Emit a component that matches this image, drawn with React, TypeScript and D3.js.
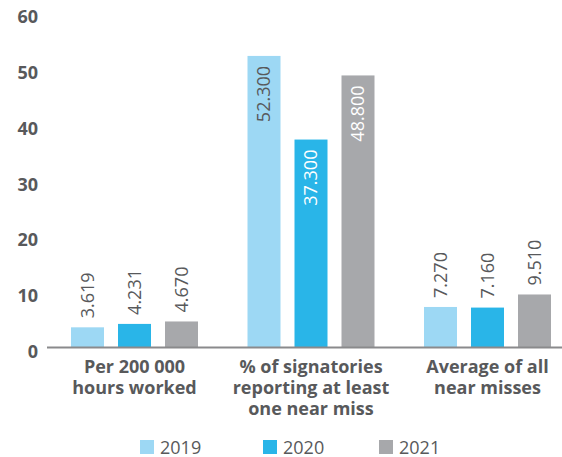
import React from "react";
import * as d3 from "d3";

const categories = [
  ["Per 200 000", "hours worked"],
  ["% of signatories", "reporting at least", "one near miss"],
  ["Average of all", "near misses"],
];
const years = ["2019", "2020", "2021"];
const values2019 = [3.619, 52.3, 7.27];
const values2020 = [4.231, 37.3, 7.16];
const values2021 = [4.67, 48.8, 9.51];
const yTicks = [0, 10, 20, 30, 40, 50, 60];

const colors = ["#9dd8f4", "#29b5e8", "#a7a8ab"];
const insideText = ["#58595b", "#ffffff", "#ffffff"];
const textColor = "#58595b";
const font = "'Open Sans', sans-serif";

const W = 562;
const H = 457;

const App = () => {
  const series = [values2019, values2020, values2021];
  const catKeys = categories.map((c) => c.join(" "));

  const y = d3.scaleLinear().domain([0, 60]).range([347.5, 13]);
  const x0 = d3.scaleBand().domain(catKeys).range([46.25, 575.75]);
  const groupW = 127;
  const x1 = d3
    .scaleBand()
    .domain(years)
    .range([(x0.bandwidth() - groupW) / 2, (x0.bandwidth() + groupW) / 2])
    .paddingInner(14 / 47);

  const legendX = d3.scaleOrdinal<string, number>().domain(years).range([140, 263, 379]);

  return (
    <svg
      width={W}
      height={H}
      style={{ position: "absolute", left: 0, top: 0, background: "#fff" }}
      fontFamily={font}
    >
      {/* y tick labels */}
      {yTicks.map((t) => (
        <text
          key={t}
          x={38}
          y={y(t) + 4}
          dy="0.35em"
          textAnchor="end"
          fontSize={18}
          fontWeight="bold"
          fill={textColor}
        >
          {t}
        </text>
      ))}

      {/* bars */}
      {catKeys.map((cat, ci) => (
        <g key={cat} transform={`translate(${x0(cat)},0)`}>
          {years.map((yr, si) => {
            const v = series[si][ci];
            const bx = x1(yr)!;
            const bw = x1.bandwidth();
            const top = y(v);
            const inside = v > 20;
            const cx = bx + bw / 2;
            const ty = inside ? top + 10 : top - 9;
            return (
              <g key={yr}>
                <rect x={bx} y={top} width={bw} height={y(0) - top} fill={colors[si]} />
                <text
                  transform={`translate(${cx},${ty}) rotate(-90)`}
                  dy="0.35em"
                  textAnchor={inside ? "end" : "start"}
                  fontSize={18}
                  fill={inside ? insideText[si] : textColor}
                >
                  {v.toFixed(3)}
                </text>
              </g>
            );
          })}
          {categories[ci].map((line, li) => (
            <text
              key={li}
              x={x0.bandwidth() / 2}
              y={373 + li * 21}
              textAnchor="middle"
              fontSize={18}
              fontWeight="bold"
              fill={textColor}
            >
              {line}
            </text>
          ))}
        </g>
      ))}

      {/* x axis line */}
      <line x1={47} x2={562} y1={y(0)} y2={y(0)} stroke="#8a8a8c" strokeWidth={2} />

      {/* legend */}
      {years.map((yr, si) => (
        <g key={yr} transform={`translate(${legendX(yr)},440)`}>
          <rect width={14} height={14} fill={colors[si]} />
          <text x={20} y={13.5} fontSize={18} fill={textColor}>
            {yr}
          </text>
        </g>
      ))}
    </svg>
  );
};

export default App;
